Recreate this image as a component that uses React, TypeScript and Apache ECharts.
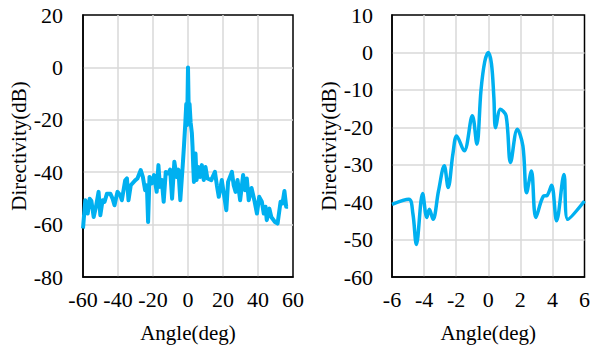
import React, { useEffect, useRef } from "react";
import * as echarts from "echarts";

// Left chart: wide angle scan
const leftAngles = [
  -60, -58.7, -57.3, -56.2, -55.2, -53.9, -52.6, -51.1, -50.1, -48.8, -47.7, -46.3, -44.4, -43.1, -42,
  -40.3, -38.7, -37.8, -35.9, -34.9, -34, -32.7, -30.2, -28.9, -27, -25.8, -24.5, -23.5, -22.8, -22,
  -20.7, -19.4, -17.9, -16.9, -16, -15, -13.9, -12.7, -11.2, -10.2, -9.1, -7.8, -6.5, -5.5, -4.4,
  -3, -2.3, -1.6, -1.0, -0.5, 0, 0.4, 0.9, 1.5, 2.2, 2.6, 3, 3.4, 4.3, 4.9, 5.8, 6.9, 7.9, 9, 10,
  11.1, 13.3, 15.4, 16.5, 17.6, 19.3, 21.9, 22.9, 25.1, 26.1, 27.2, 28.3, 29.8, 31.5, 32.6, 33.6,
  34.7, 36.3, 37.9, 39.4, 40.7, 42.2, 43.3, 44.3, 45, 46.5, 47.6, 49.7, 51.2, 52.9, 54, 55.1, 56.1, 57.2,
];
const leftValues = [
  -61.5, -50.7, -55.8, -50.1, -51, -57.1, -53.2, -47.5, -56.4, -50.7, -51.3, -48.2, -48.2, -50.1, -52.6,
  -47.5, -48.8, -50.7, -43.1, -42.4, -50.7, -45, -43.1, -42.4, -39.2, -41.8, -46.9, -45, -59, -41.8,
  -44.3, -41.1, -47.5, -37.3, -45.6, -43, -51.3, -39.9, -40.5, -39, -50.1, -36, -41.8, -39, -50.7,
  -37.3, -30, -22, -14, -22, 0, -16, -14, -21, -25, -30.3, -38, -43.7, -32.9, -43, -38, -41.8, -37.3, -43, -38,
  -42.4, -43, -39.9, -45, -49.4, -43, -54.5, -43.7, -39.9, -45, -47.5, -43, -50.7, -41.1, -46.9, -42.4,
  -50.7, -46, -50.7, -55.8, -49.4, -51.3, -55.8, -53.2, -58.3, -53.9, -57.1, -59, -59.6, -51.3, -51.9, -47.2, -53.2, -53.2,
];

// Right chart: zoom on main lobe
const rightAngles = [
  -6, -4.95, -4.7, -4.48, -4.09, -3.83, -3.67, -3.44, -3.1, -2.74, -2.5, -2.2, -1.97, -1.5, -0.99, -0.71,
  -0.45, -0.22, 0, 0.2, 0.35, 0.46, 0.76, 1.11, 1.39, 1.81, 2.16, 2.39, 2.69, 2.97, 3.44, 3.67, 3.95, 4.26,
  4.72, 4.96, 6,
];
const rightValues = [
  -40.6, -39.2, -43, -51.3, -37.7, -44.1, -41.9, -44.6, -37, -30.3, -36.1, -27, -22.3, -26.3, -16.9, -24.5,
  -10, -2.5, 0, -3, -12, -20.1, -15.2, -16.9, -29.4, -20.5, -25, -37.5, -31.7, -44.1, -38.4, -38.2, -35.5, -45,
  -32.6, -44.6, -39.7,
];

const FONT = "Liberation Serif";
const LINE = "#00B0F0";
const GRIDC = "#d9d9d9";
const TICK = 22;

const tickLabel = (margin: number) => ({
  show: true,
  color: "#000",
  fontFamily: FONT,
  fontSize: TICK,
  fontWeight: "normal",
  margin,
});

function axisBase(extra: any) {
  return {
    axisLine: { show: true, onZero: false, lineStyle: { color: "#000", width: 1.5 } },
    axisTick: { show: false },
    splitLine: { show: true, showMinLine: false, showMaxLine: false, lineStyle: { color: GRIDC, width: 1.5 } },
    nameTextStyle: { color: "#000", fontFamily: FONT, fontSize: 21 },
    ...extra,
  };
}

export default function App() {
  const ref = useRef<HTMLDivElement>(null);
  useEffect(() => {
    if (!ref.current) return;
    const chart = echarts.init(ref.current, undefined, { renderer: "svg" });
    const leftData = leftAngles.map((a, i) => [a, leftValues[i]]);
    const rightData = rightAngles.map((a, i) => [a, rightValues[i]]);
    chart.setOption({
      animation: false,
      backgroundColor: "#fff",
      textStyle: { fontFamily: FONT, color: "#000", fontSize: TICK },
      grid: [
        { left: 83, top: 15, width: 210, height: 262, show: true, borderColor: "#000", borderWidth: 1.5, backgroundColor: "transparent" },
        { left: 392, top: 15, width: 193, height: 262, show: true, borderColor: "#000", borderWidth: 1.5, backgroundColor: "transparent" },
      ],
      xAxis: [
        axisBase({
          gridIndex: 0, type: "value", min: -60, max: 60, interval: 20,
          name: "Angle(deg)", nameLocation: "middle", nameGap: 45,
          axisLabel: tickLabel(11),
        }),
        axisBase({
          gridIndex: 1, type: "value", min: -6, max: 6, interval: 2,
          name: "Angle(deg)", nameLocation: "middle", nameGap: 45,
          axisLabel: tickLabel(11),
        }),
      ],
      yAxis: [
        axisBase({
          gridIndex: 0, type: "value", min: -80, max: 20, interval: 20,
          name: "Directivity(dB)", nameLocation: "middle", nameGap: 52,
          axisLabel: tickLabel(20),
        }),
        axisBase({
          gridIndex: 1, type: "value", min: -60, max: 10, interval: 10,
          name: "Directivity(dB)", nameLocation: "middle", nameGap: 53,
          axisLabel: tickLabel(19),
        }),
      ],
      series: [
        {
          type: "line", xAxisIndex: 0, yAxisIndex: 0, data: leftData,
          showSymbol: false, symbol: "none",
          lineStyle: { color: LINE, width: 4, join: "round" },
        },
        {
          type: "line", xAxisIndex: 1, yAxisIndex: 1, data: rightData,
          showSymbol: false, symbol: "none", smooth: 0.35,
          lineStyle: { color: LINE, width: 3.5 },
        },
      ],
    });
    return () => chart.dispose();
  }, []);
  return (
    <div
      ref={ref}
      style={{ position: "fixed", left: 0, top: 0, width: 593, height: 351 }}
    />
  );
}
